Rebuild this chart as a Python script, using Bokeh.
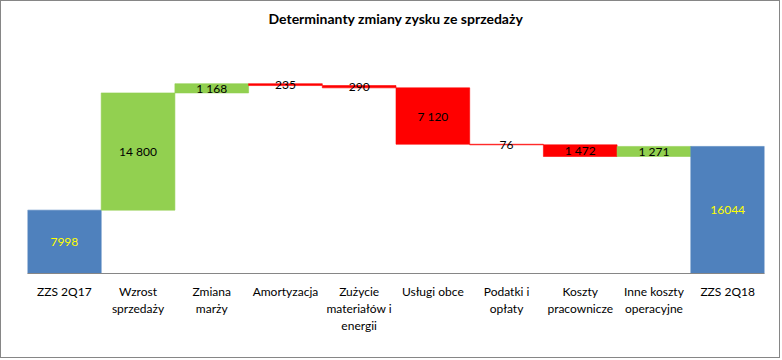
from bokeh.plotting import figure
from bokeh.models import ColumnDataSource, FactorRange, Range1d, Title
from bokeh.core.properties import value
from bokeh.embed import file_html
from bokeh.resources import INLINE

# ---- data ----
categories = ["ZZS 2Q17", "Wzrost\nsprzedaży", "Zmiana\nmarży", "Amortyzacja",
              "Zużycie\nmateriałów i\nenergii", "Usługi obce", "Podatki i\nopłaty",
              "Koszty\npracownicze", "Inne koszty\noperacyjne", "ZZS 2Q18"]
changes = [7998, 14800, 1168, -235, -290, -7120, -76, -1472, 1271, 16044]
is_total = [True, False, False, False, False, False, False, False, False, True]
title_text = "Determinanty zmiany zysku ze sprzedaży"

# ---- styles ----
BLUE, GREEN, RED = "#4F81BD", "#92D050", "#FF0000"
FONT = "Lato"

bottoms, tops, colors, labels, label_colors, mids = [], [], [], [], [], []
running = 0
for v, tot in zip(changes, is_total):
    if tot:
        b, t = 0, v
        running = v
        colors.append(BLUE)
        labels.append(str(v))
        label_colors.append("#FFFF00")
    else:
        b, t = running, running + v
        running = t
        colors.append(GREEN if v > 0 else RED)
        labels.append(f"{abs(v):,}".replace(",", " "))
        label_colors.append("#000000")
    bottoms.append(min(b, t))
    tops.append(max(b, t))
    mids.append((b + t) / 2)

src = ColumnDataSource(dict(cat=categories, bottom=bottoms, top=tops, color=colors,
                            label=labels, lcolor=label_colors, mid=mids))

Y_MAX = 25000
W, H = 780, 358
MB_TOP, MB_BOTTOM = 74, 86

p = figure(x_range=FactorRange(*categories, range_padding=0),
           y_range=Range1d(0, Y_MAX),
           width=W, height=H, output_backend="svg", toolbar_location=None,
           min_border_left=26, min_border_right=17,
           min_border_top=MB_TOP, min_border_bottom=MB_BOTTOM,
           styles={"border": "1px solid #868686"})

# spacer (closest to frame) then the real title above it
p.add_layout(Title(text=" ", text_font_size="1px", standoff=41), "above")
p.add_layout(Title(text=title_text, align="center", text_font=FONT,
                   text_font_style="bold", text_font_size="14px",
                   text_color="#000000", standoff=10), "above")

p.vbar(x="cat", bottom="bottom", top="top", width=1.0, fill_color="color",
       line_color="color", line_width=0.6, source=src)
p.text(x="cat", y="mid", text="label", text_color="lcolor", text_align="center",
       text_baseline="middle", text_font=value(FONT), text_font_size="12px", source=src)

p.yaxis.visible = False
p.xgrid.grid_line_color = None
p.ygrid.grid_line_color = None
p.outline_line_color = None
ax = p.xaxis[0]
ax.axis_line_color = "#868686"
ax.axis_line_width = 1
ax.major_tick_line_color = None
ax.minor_tick_line_color = None
ax.major_tick_out = 0
ax.major_label_standoff = 10
ax.major_label_text_font = FONT
ax.major_label_text_font_size = "12px"
ax.major_label_text_color = "#000000"
ax.major_label_text_line_height = 1.15
ax.major_label_orientation = "horizontal"

open("out.html", "w").write(file_html(p, INLINE))
